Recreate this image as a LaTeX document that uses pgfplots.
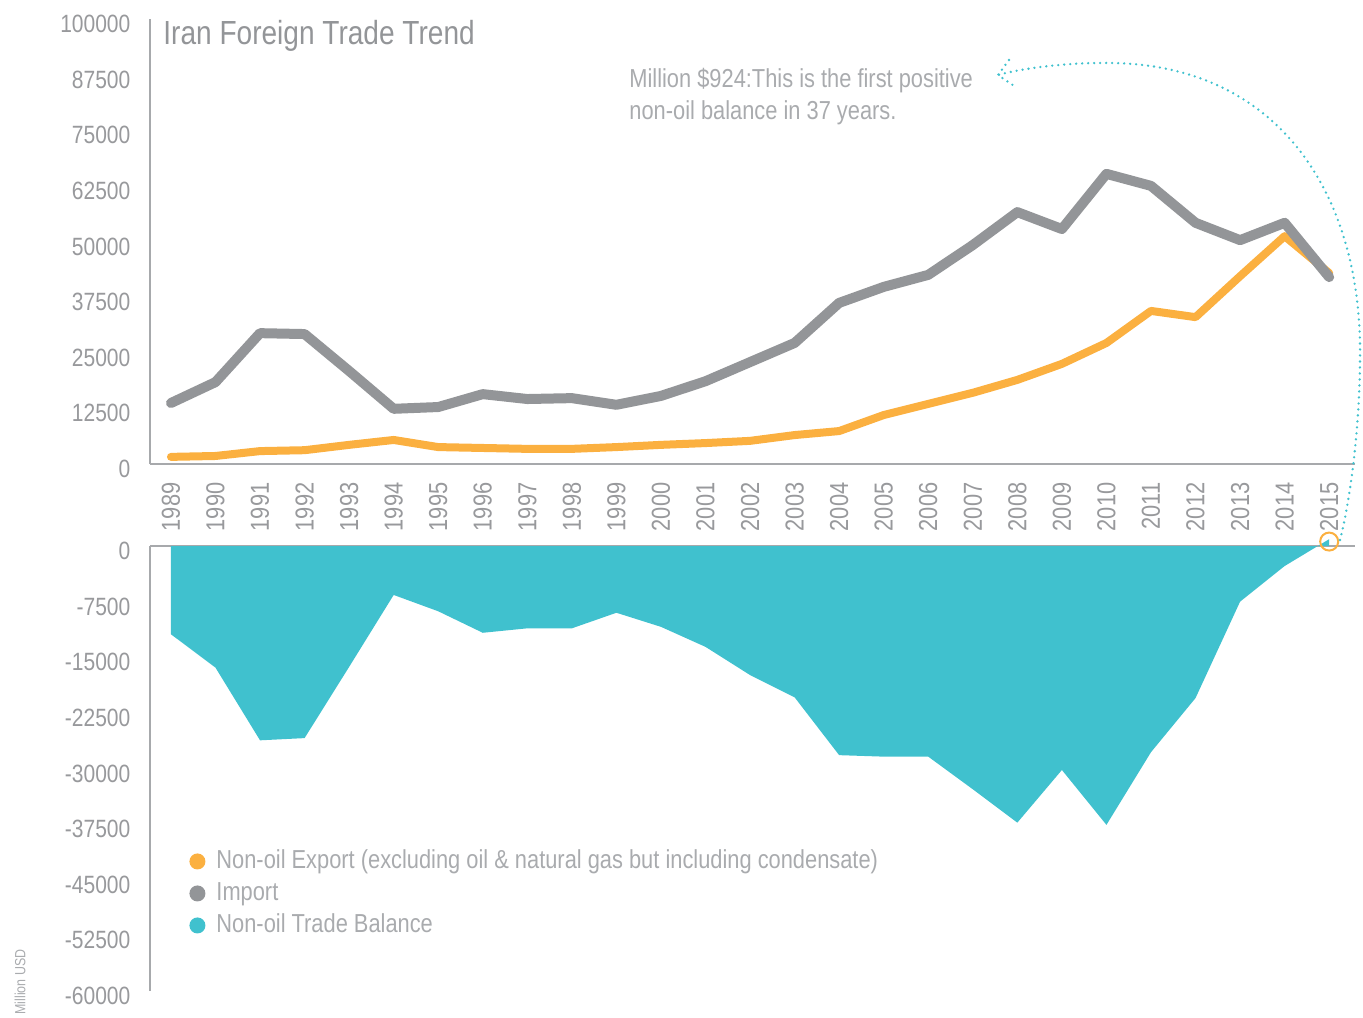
\documentclass[border=0pt]{standalone}
\usepackage{fontspec}
\setmainfont{Liberation Sans}[FakeStretch=0.84]
\usepackage{pgfplots}
\pgfplotsset{compat=1.18}
\definecolor{cOrange}{HTML}{FBB040}
\definecolor{cGray}{HTML}{939598}
\definecolor{cTeal}{HTML}{40C1CE}
\definecolor{cAxis}{HTML}{A7A9AC}
\definecolor{cText}{HTML}{98999C}
\definecolor{cNote}{HTML}{A9ABAE}
\begin{document}
\begin{tikzpicture}
\useasboundingbox (0,0) rectangle (681.5pt,508.5pt);
\pgfplotsset{
  common/.style={
    scale only axis, width=602.5pt, height=222.5pt,
    xmin=1988.53, xmax=2015.58,
    scaled y ticks=false, scaled x ticks=false,
    tick style={draw=none},
    yticklabel style={font=\fontsize{12.5}{14}\selectfont, text=cText, anchor=east, inner sep=0pt, xshift=-7.5pt, yshift=-2.5pt},
    axis y line=left,
  },
  lines/.style={axis line style={draw=cAxis, line width=1.3pt, -}, x axis line style={-}, y axis line style={-}},
}
\begin{axis}[common, at={(75pt,276.5pt)}, anchor=south west,
  axis x line=bottom, lines, ymin=0, ymax=100000,
  ytick={0,12500,25000,37500,50000,62500,75000,87500,100000},
  yticklabels={0,12500,25000,37500,50000,62500,75000,87500,100000},
  xtick={1989,1990,1991,1992,1993,1994,1995,1996,1997,1998,1999,2000,2001,2002,2003,2004,2005,2006,2007,2008,2009,2010,2011,2012,2013,2014,2015},
  xticklabels={1989,1990,1991,1992,1993,1994,1995,1996,1997,1998,1999,2000,2001,2002,2003,2004,2005,2006,2007,2008,2009,2010,2011,2012,2013,2014,2015},
  xticklabel style={yshift=-7pt, rotate=90, anchor=east, inner sep=0pt, font=\fontsize{13}{15}\selectfont, text=cText},
]
\addplot[cOrange, line width=4pt, line join=round, line cap=round] coordinates {
(1989,1600) (1990,1800) (1991,2900) (1992,3100) (1993,4300) (1994,5400)
(1995,3800) (1996,3600) (1997,3400) (1998,3400) (1999,3800) (2000,4300)
(2001,4700) (2002,5200) (2003,6500) (2004,7400) (2005,11000) (2006,13500)
(2007,16000) (2008,18900) (2009,22500) (2010,27200) (2011,34400) (2012,33000)
(2013,42200) (2014,51200) (2015,42900)};
\addplot[cGray, line width=5pt, line join=round, line cap=round] coordinates {
(1989,13700) (1990,18400) (1991,29400) (1992,29200) (1993,20900) (1994,12400)
(1995,12800) (1996,15700) (1997,14600) (1998,14800) (1999,13300) (2000,15300)
(2001,18600) (2002,22900) (2003,27200) (2004,36200) (2005,39800) (2006,42500)
(2007,49200) (2008,56600) (2009,52800) (2010,65200) (2011,62500) (2012,54200)
(2013,50300) (2014,54200) (2015,42000)};
\end{axis}
\begin{axis}[common, at={(75pt,13pt)}, anchor=south west,
  axis x line=top, lines, ymin=-60000, ymax=0, clip=false,
  xtick=\empty,
  ytick={-60000,-52500,-45000,-37500,-30000,-22500,-15000,-7500,0},
  yticklabels={-60000,-52500,-45000,-37500,-30000,-22500,-15000,-7500,0},
  legend style={at={(0.0324,0.328)}, anchor=north west, draw=none, fill=none,
    inner sep=0pt, row sep=0pt,
    font=\fontsize{13}{15}\selectfont, text=cNote,
    nodes={text height=10pt, text depth=3pt, inner sep=1.5pt},
    legend image code/.code={\fill[#1, draw=none] (4pt,0) circle (4pt); \path[draw=none, fill=none] (0,0) -- (12pt,0);}},
  legend cell align=left,
]
\addplot[fill=cTeal, draw=none, forget plot] coordinates {
(1989,0) (1989,-11900) (1990,-16400) (1991,-26200) (1992,-25900) (1993,-16300)
(1994,-6600) (1995,-8800) (1996,-11700) (1997,-11100) (1998,-11100)
(1999,-9000) (2000,-10900) (2001,-13600) (2002,-17400) (2003,-20400)
(2004,-28200) (2005,-28400) (2006,-28400) (2007,-32800) (2008,-37300)
(2009,-30200) (2010,-37600) (2011,-27800) (2012,-20500) (2013,-7500)
(2014,-2700) (2015,924) (2015,0)} \closedcycle;
\addplot[only marks, mark=o, mark size=4.5pt, cOrange, mark options={line width=1pt}, forget plot] coordinates {(2015,600)};
\addlegendimage{fill=cOrange, draw=none}
\addlegendentry{Non-oil Export (excluding oil \& natural gas but including condensate)}
\addlegendimage{fill=cGray, draw=none}
\addlegendentry{Import}
\addlegendimage{fill=cTeal, draw=none}
\addlegendentry{Non-oil Trade Balance}
\end{axis}
% titles and notes
\node[anchor=base west, inner sep=0pt, text=cGray, font=\fontsize{16.7}{20}\selectfont] at (81.5pt,486pt) {Iran Foreign Trade Trend};
\node[anchor=base west, inner sep=0pt, text=cNote, font=\fontsize{13}{15}\selectfont] at (314.5pt,464.5pt) {Million \$924:This is the first positive};
\node[anchor=base west, inner sep=0pt, text=cNote, font=\fontsize{13}{15}\selectfont] at (314.5pt,448.5pt) {non-oil balance in 37 years.};
\node[rotate=90, inner sep=0pt, text=cNote, font=\fontsize{7.4}{9}\selectfont] at (10pt,17.5pt) {Million USD};
% dotted annotation arrow
\draw[cTeal, line width=1.3pt, line cap=round, dash pattern=on 0pt off 3pt]
  (670pt,238.5pt) .. controls (676pt,262pt) and (680pt,300pt) .. (680pt,330pt)
  .. controls (681pt,410pt) and (640pt,478pt) .. (551.5pt,477pt)
  .. controls (530pt,477pt) and (510pt,474pt) .. (499pt,471pt);
\draw[cTeal, line width=1.3pt, line cap=round, dash pattern=on 0pt off 3pt] (504.5pt,478.5pt) -- (499pt,471pt) -- (508.5pt,464.5pt);
\end{tikzpicture}
\end{document}
